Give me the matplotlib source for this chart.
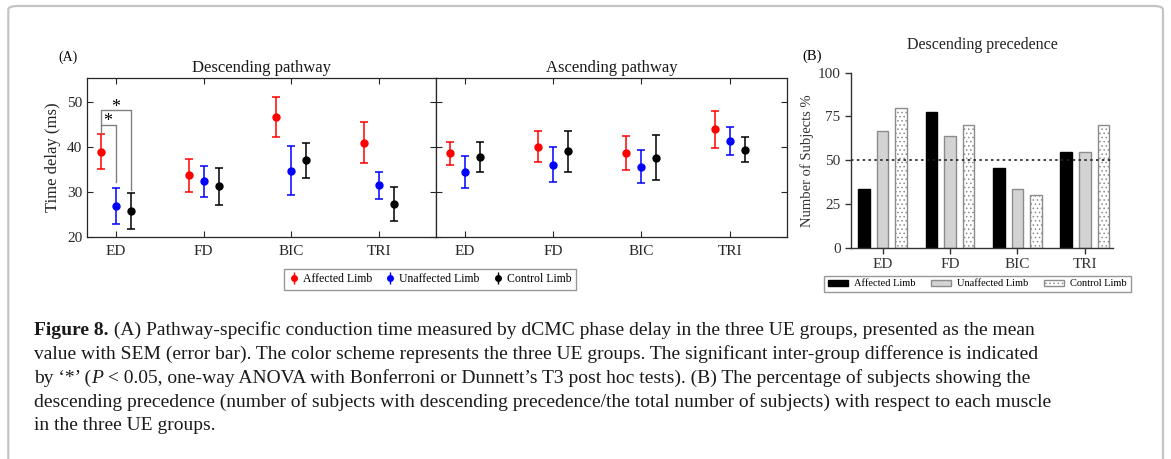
import matplotlib
matplotlib.use("Agg")
import matplotlib.pyplot as plt
import numpy as np
from matplotlib.patches import Patch, FancyBboxPatch

plt.rcParams["font.family"] = ["Liberation Serif", "DejaVu Serif"]
plt.rcParams["hatch.color"] = "#a8a8a8"
plt.rcParams["hatch.linewidth"] = 0.6

muscles = ["ED", "FD", "BIC", "TRI"]
groups = ["Affected Limb", "Unaffected Limb", "Control Limb"]
colors = ["#ff0000", "#0000ff", "#000000"]

# mean phase delay (ms) and SEM, one row per group
desc_mean = [[38.9, 33.7, 46.6, 40.9],
             [26.9, 32.4, 34.7, 31.5],
             [25.7, 31.3, 37.0, 27.4]]
desc_sem = [[3.9, 3.65, 4.4, 4.55],
            [4.0, 3.45, 5.4, 3.0],
            [4.0, 4.1, 3.8, 3.75]]
asc_mean = [[38.6, 40.0, 38.7, 43.9],
            [34.5, 36.0, 35.6, 41.3],
            [37.7, 39.0, 37.6, 39.4]]
asc_sem = [[2.6, 3.45, 3.75, 4.1],
           [3.55, 3.9, 3.65, 3.2],
           [3.35, 4.55, 5.0, 2.7]]

# percentage of subjects with descending precedence
prec_pct = [[33.3, 77.8, 45.5, 54.5],
            [66.7, 63.6, 33.3, 54.5],
            [80.0, 70.0, 30.0, 70.0]]

fig = plt.figure(figsize=(11.71, 4.59), dpi=100)
W, H = 1171, 459


def px_axes(x0, y0, x1, y1):
    return fig.add_axes([x0 / W, 1 - y1 / H, (x1 - x0) / W, (y1 - y0) / H])


ax1 = px_axes(87, 78, 436, 237)
ax2 = px_axes(436, 78, 787, 237)
axb = px_axes(851, 72.7, 1113, 247.7)

x = np.arange(1, 5)
offs = [-0.17, 0.0, 0.17]

for ax, means, sems, title in [(ax1, desc_mean, desc_sem, "Descending pathway"),
                               (ax2, asc_mean, asc_sem, "Ascending pathway")]:
    for g in range(3):
        ax.errorbar(x + offs[g], means[g], yerr=sems[g], fmt="o", color=colors[g],
                    ms=5, capsize=3.2, elinewidth=1.1, capthick=1.1)
    ax.set_xlim(0.67, 4.65)
    ax.set_ylim(20, 55.3)
    ax.set_xticks(x)
    ax.set_xticklabels(muscles, fontsize=11.5)
    ax.set_yticks([20, 30, 40, 50])
    ax.tick_params(direction="in", top=True, right=True, length=4, width=0.8,
                   colors="#262626", labelcolor="#262626", labelsize=11)
    ax.tick_params(axis="x", pad=6)
    for s in ax.spines.values():
        s.set_color("#262626")
        s.set_linewidth(0.9)
    ax.set_title(title, fontsize=12, pad=4, color="#1a1a1a")

ax2.set_yticklabels([])
ax1.set_ylabel("Time delay (ms)", fontsize=12, color="#262626", labelpad=4)

# significance brackets for ED (affected vs unaffected / control)
xa, xu, xc = 1 + offs[0], 1 + offs[1], 1 + offs[2]
br = "#808080"
ax1.plot([xa, xa, xu, xu], [43.0, 44.9, 44.9, 32.1], color=br, lw=1)
ax1.plot([xa, xa, xc, xc], [44.9, 48.1, 48.1, 30.4], color=br, lw=1)
ax1.text(0.9, 45.6, "*", ha="center", va="center", fontsize=13)
ax1.text(1.0, 48.8, "*", ha="center", va="center", fontsize=13)

leg_a = fig.legend(
    [ax1.errorbar([], [], yerr=[], fmt="o", color=c, ms=4, capsize=2.5, elinewidth=1)
     for c in colors],
    groups, loc="center", bbox_to_anchor=(430 / W, 1 - 279.5 / H), ncol=3,
    fontsize=8.5, frameon=True, fancybox=False, edgecolor="#7f7f7f",
    handlelength=0.9, handletextpad=0.3, columnspacing=1.1, borderpad=0.4)
leg_a.get_frame().set_linewidth(1.0)

# panel B bars
bw = 0.173
step = 0.277
styles = [dict(facecolor="#000000", edgecolor="#000000"),
          dict(facecolor="#d3d3d3", edgecolor="#8c8c8c"),
          dict(facecolor="#ffffff", edgecolor="#8c8c8c", hatch="....")]
for g in range(3):
    axb.bar(x + (g - 1) * step, prec_pct[g], width=bw, linewidth=1.0, **styles[g])
axb.axhline(50, color="#222222", ls=(0, (1.5, 2)), lw=1.2)
axb.set_xlim(0.53, 4.42)
axb.set_ylim(0, 100)
axb.set_yticks([0, 25, 50, 75, 100])
axb.set_xticks(x)
axb.set_xticklabels(muscles, fontsize=12)
axb.tick_params(direction="out", length=4, width=1, colors="#333333",
                labelcolor="#333333", labelsize=11)
for s in ["top", "right"]:
    axb.spines[s].set_visible(False)
for s in ["left", "bottom"]:
    axb.spines[s].set_color("#333333")
    axb.spines[s].set_linewidth(1)
axb.set_ylabel("Number of Subjects %", fontsize=10.5, color="#333333", labelpad=3)
axb.set_title("Descending precedence", fontsize=11.5, pad=17, color="#222222")

leg_b = fig.legend(
    [Patch(linewidth=1.0, **st) for st in styles],
    groups, loc="center", bbox_to_anchor=(977.5 / W, 1 - 284 / H), ncol=3,
    fontsize=7.5, frameon=True, fancybox=False, edgecolor="#7f7f7f",
    handlelength=1.9, handleheight=0.6, handletextpad=0.6, columnspacing=1.5,
    borderpad=0.35)
leg_b.get_frame().set_linewidth(1.0)

fig.text(68 / W, 1 - 57 / H, "(A)", ha="center", va="center", fontsize=10)
fig.text(812 / W, 1 - 56 / H, "(B)", ha="center", va="center", fontsize=10.5)

# rounded frame around the figure
frame = FancyBboxPatch(
    (8.3 / W, -0.05), (1163 - 8.3) / W, 1.05 - 6 / H,
    boxstyle="round,pad=0,rounding_size=0.008", transform=fig.transFigure,
    facecolor="none", edgecolor="#c4c4c4", lw=1.6)
fig.patches.append(frame)

# caption, drawn line by line with mixed styles
caption = [
    [("Figure 8.", "bold", "normal"),
     (" (A) Pathway-specific conduction time measured by dCMC phase delay in the three UE groups, presented as the mean",
      "normal", "normal")],
    [("value with SEM (error bar). The color scheme represents the three UE groups. The significant inter-group difference is indicated",
      "normal", "normal")],
    [("by \u2018*\u2019 (", "normal", "normal"), ("P", "normal", "italic"),
     (" < 0.05, one-way ANOVA with Bonferroni or Dunnett\u2019s T3 post hoc tests). (B) The percentage of subjects showing the",
      "normal", "normal")],
    [("descending precedence (number of subjects with descending precedence/the total number of subjects) with respect to each muscle",
      "normal", "normal")],
    [("in the three UE groups.", "normal", "normal")],
]
baselines = [335, 359, 383, 407, 430]
cap_size = 14
fig.canvas.draw()
renderer = fig.canvas.get_renderer()
for line, yb in zip(caption, baselines):
    xpos = 34
    for txt, weight, style in line:
        t = fig.text(xpos / W, 1 - yb / H, txt, fontsize=cap_size, fontweight=weight,
                     fontstyle=style, ha="left", va="baseline", color="#1a1a1a")
        xpos += t.get_window_extent(renderer=renderer).width

fig.savefig("out.png", dpi=100)
